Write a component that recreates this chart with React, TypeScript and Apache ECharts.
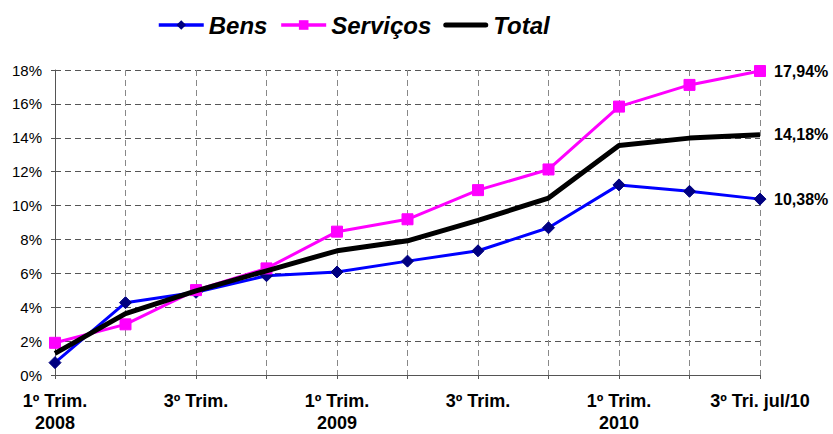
import React, { useEffect, useRef } from "react";
import * as echarts from "echarts";

const categories = [
  "1º Trim.\n2008", "2º Trim. 2008", "3º Trim.", "4º Trim. 2008",
  "1º Trim.\n2009", "2º Trim. 2009", "3º Trim.", "4º Trim. 2009",
  "1º Trim.\n2010", "2º Trim. 2010", "3º Tri. jul/10",
];
const bens = [0.73, 4.27, 4.88, 5.86, 6.08, 6.72, 7.33, 8.69, 11.22, 10.84, 10.38];
const servicos = [1.9, 2.99, 5.01, 6.29, 8.46, 9.19, 10.91, 12.13, 15.84, 17.12, 17.94];
const total = [1.28, 3.62, 4.97, 6.15, 7.33, 7.92, 9.12, 10.44, 13.55, 13.98, 14.18];

const FONT = "'Liberation Sans', Arial, sans-serif";

const endLabel = {
  show: true,
  distance: 14,
  formatter: (p: any) => {
    const v = Array.isArray(p.value) ? p.value[p.value.length - 1] : p.value;
    return Number(v).toFixed(2).replace(".", ",") + "%";
  },
  fontFamily: FONT,
  fontWeight: "bold",
  fontSize: 16,
  color: "#000",
};

export default function App() {
  const ref = useRef<HTMLDivElement>(null);
  useEffect(() => {
    if (!ref.current) return;
    const chart = echarts.init(ref.current, null, { renderer: "svg" });
    chart.setOption({
      animation: false,
      backgroundColor: "#fff",
      legend: {
        left: 152,
        top: 8,
        itemWidth: 45,
        itemHeight: 12,
        itemGap: 12,
        lineStyle: { width: 3.5 },
        textStyle: {
          fontFamily: FONT,
          fontStyle: "italic",
          fontWeight: "bold",
          fontSize: 24,
          color: "#000",
        },
        data: [
          { name: "Bens", lineStyle: { width: 3.5, color: "#0000FF" } },
          { name: "Serviços", lineStyle: { width: 3.5, color: "#FF00FF" } },
          {
            name: "Total",
            icon: "path://M0,0h0.01v0.01h-0.01z M2.5,3.5H42.5A2.5,2.5,0,0,1,42.5,8.5H2.5A2.5,2.5,0,0,1,2.5,3.5z M44.99,11.99h0.01v0.01h-0.01z",
            itemStyle: { color: "#000", borderWidth: 0 },
          },
        ],
      },
      grid: { left: 55, right: 73, top: 70, bottom: 59, containLabel: false },
      xAxis: {
        type: "category",
        boundaryGap: false,
        data: categories,
        axisLine: { lineStyle: { color: "#555", width: 1 } },
        axisTick: { show: true, interval: 0, length: 4, lineStyle: { color: "#555" } },
        axisLabel: {
          interval: 1,
          margin: 15,
          fontFamily: FONT,
          fontWeight: "bold",
          fontSize: 18,
          lineHeight: 22,
          color: "#000",
        },
        splitLine: {
          show: true,
          interval: 0,
          lineStyle: { type: [6, 4], color: "#888", width: 1 },
        },
      },
      yAxis: {
        type: "value",
        min: 0,
        max: 18,
        interval: 2,
        axisLine: { show: true, lineStyle: { color: "#555", width: 1 } },
        axisTick: { show: true, length: 4, lineStyle: { color: "#555" } },
        axisLabel: {
          formatter: "{value}%",
          margin: 13,
          fontFamily: FONT,
          fontSize: 15,
          color: "#000",
        },
        splitLine: { lineStyle: { type: [6, 4], color: "#555", width: 1 } },
      },
      series: [
        {
          name: "Bens",
          type: "line",
          data: bens,
          symbol: "diamond",
          symbolSize: 12,
          lineStyle: { color: "#0000FF", width: 3 },
          itemStyle: { color: "#000080", borderColor: "#000080" },
          endLabel,
          z: 3,
        },
        {
          name: "Serviços",
          type: "line",
          data: servicos,
          symbol: "rect",
          symbolSize: 11,
          lineStyle: { color: "#FF00FF", width: 3 },
          itemStyle: { color: "#FF00FF", borderColor: "#FF00FF" },
          endLabel,
          z: 3,
        },
        {
          name: "Total",
          type: "line",
          data: total,
          symbol: "circle",
          symbolSize: 0,
          showSymbol: false,
          lineStyle: { color: "#000", width: 5 },
          itemStyle: { color: "#000" },
          endLabel,
          z: 4,
        },
      ],
    });
    return () => chart.dispose();
  }, []);
  return (
    <div
      ref={ref}
      style={{ position: "fixed", left: 0, top: 0, width: 833, height: 434, background: "#fff" }}
    />
  );
}
